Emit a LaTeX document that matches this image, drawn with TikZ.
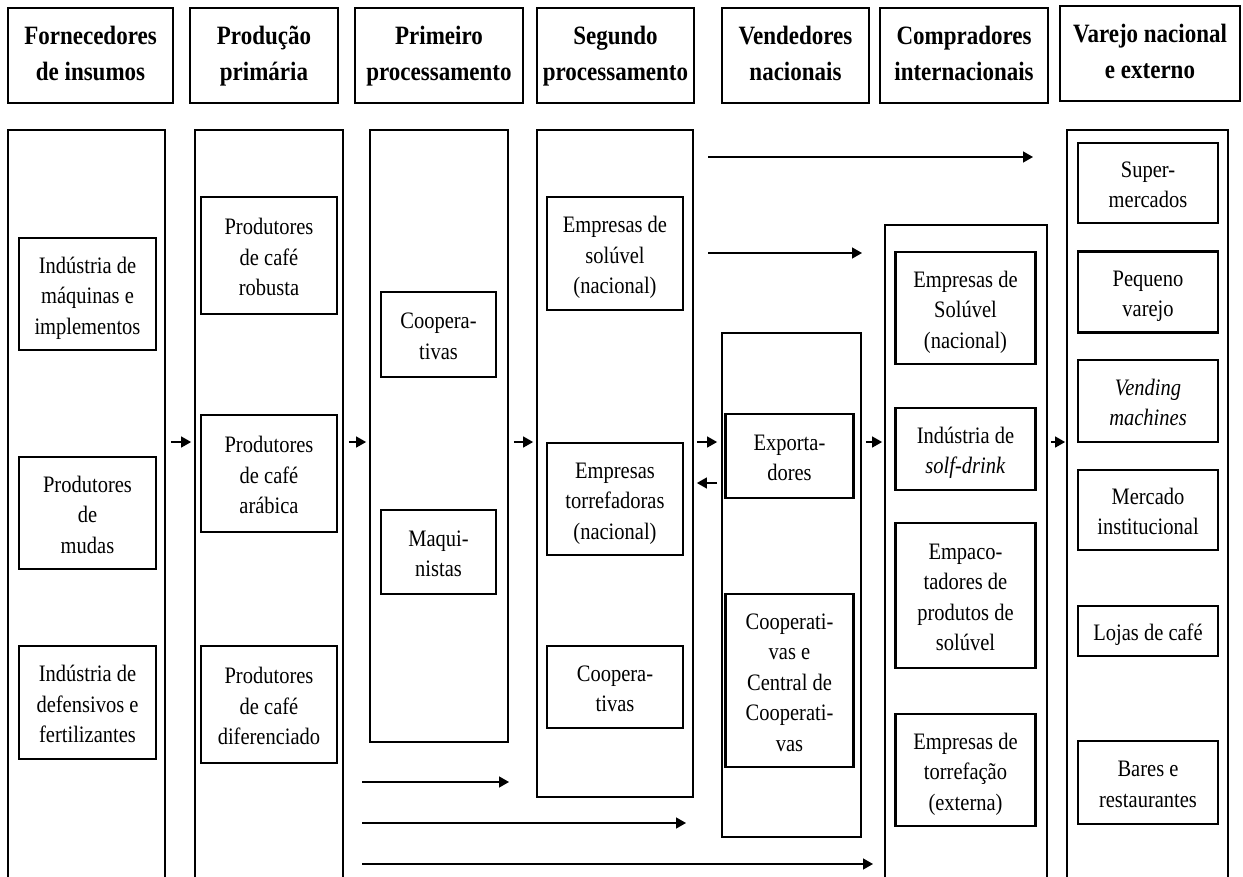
\documentclass[tikz,border=0pt]{standalone}
\usepackage{fontspec}
\setmainfont{Liberation Serif}
\usepackage{graphicx}
\usetikzlibrary{arrows.meta}
\newcommand\vtxt[1]{\scalebox{1}[1.15]{\begin{tabular}{@{}c@{}}#1\end{tabular}}}
\newcommand\itxt[1]{\raisebox{-3.5pt}[\height][\depth]{\vtxt{#1}}}
\begin{document}
\begin{tikzpicture}[x=1pt,y=-1pt,
  hbox/.style={draw,line width=2.2pt,inner sep=0pt,font=\bfseries\fontsize{23}{30.5}\selectfont},
  col/.style={draw,line width=1.8pt,inner sep=0pt},
  ibox/.style={draw,line width=2.8pt,inner sep=0pt,font=\fontsize{20.5}{26.5}\selectfont},
  arr/.style={line width=1.4pt,-{Triangle[length=10pt,width=11pt]}}]
\useasboundingbox (0,0) rectangle (1243,876);
\fill[white] (0,0) rectangle (1243,876);
% headers
\node[hbox,minimum width=165,minimum height=95] (H1) at (90.5,55.5) {\vtxt{Fornecedores\\de insumos}};
\node[hbox,minimum width=148,minimum height=95] (H2) at (264,55.5) {\vtxt{Produção\\primária}};
\node[hbox,minimum width=168,minimum height=95] (H3) at (439,55.5) {\vtxt{Primeiro\\processamento}};
\node[hbox,minimum width=157,minimum height=95] (H4) at (615.5,55.5) {\vtxt{Segundo\\processamento}};
\node[hbox,minimum width=147,minimum height=95] (H5) at (795.5,55.5) {\vtxt{Vendedores\\nacionais}};
\node[hbox,minimum width=168,minimum height=95] (H6) at (964,55.5) {\vtxt{Compradores\\internacionais}};
\node[hbox,minimum width=180,minimum height=95] (H7) at (1150,53.5) {\vtxt{Varejo nacional\\e externo}};
% columns
\node[col,minimum width=157,minimum height=770] (C1) at (86.5,515) {};
\node[col,minimum width=148,minimum height=770] (C2) at (269,515) {};
\node[col,minimum width=138,minimum height=612] (C3) at (439,436) {};
\node[col,minimum width=156,minimum height=667] (C4) at (615,463.5) {};
\node[col,minimum width=139,minimum height=504] (C5) at (791.5,585) {};
\node[col,minimum width=162,minimum height=676] (C6) at (966,563) {};
\node[col,minimum width=161,minimum height=770] (C7) at (1147.5,515) {};
% column 1
\node[ibox,minimum width=137,minimum height=112] (a1) at (87.5,294) {\itxt{Indústria de\\máquinas e\\implementos}};
\node[ibox,minimum width=137,minimum height=112] (a2) at (87.5,513) {\itxt{Produtores\\de\\mudas}};
\node[ibox,minimum width=137,minimum height=113] (a3) at (87.5,702.5) {\itxt{Indústria de\\defensivos e\\fertilizantes}};
% column 2
\node[ibox,minimum width=136,minimum height=117] (b1) at (269,255.5) {\itxt{Produtores\\de café\\robusta}};
\node[ibox,minimum width=136,minimum height=117] (b2) at (269,473.5) {\itxt{Produtores\\de café\\arábica}};
\node[ibox,minimum width=136,minimum height=117] (b3) at (269,704.5) {\itxt{Produtores\\de café\\diferenciado}};
% column 3
\node[ibox,minimum width=115,minimum height=85] (d1) at (438.5,334.5) {\itxt{Coopera-\\tivas}};
\node[ibox,minimum width=115,minimum height=84] (d2) at (438.5,552) {\itxt{Maqui-\\nistas}};
% column 4
\node[ibox,minimum width=136,minimum height=113] (e1) at (615,253.5) {\itxt{Empresas de\\solúvel\\(nacional)}};
\node[ibox,minimum width=136,minimum height=112] (e2) at (615,499) {\itxt{Empresas\\torrefadoras\\(nacional)}};
\node[ibox,minimum width=136,minimum height=82] (e3) at (615,687) {\itxt{Coopera-\\tivas}};
% column 5
\node[ibox,minimum width=128,minimum height=84] (f1) at (789.5,456) {\itxt{Exporta-\\dores}};
\node[ibox,minimum width=128,minimum height=173] (f2) at (789.5,680.5) {\itxt{Cooperati-\\vas e\\Central de\\Cooperati-\\vas}};
% column 6
\node[ibox,minimum width=140,minimum height=112] (g1) at (965.5,308) {\itxt{Empresas de\\Solúvel\\(nacional)}};
\node[ibox,minimum width=140,minimum height=82] (g2) at (965.5,449) {\itxt{Indústria de\\\textit{solf-drink}}};
\node[ibox,minimum width=140,minimum height=145] (g3) at (965.5,595.5) {\itxt{Empaco-\\tadores de\\produtos de\\solúvel}};
\node[ibox,minimum width=140,minimum height=112] (g4) at (965.5,770) {\itxt{Empresas de\\torrefação\\(externa)}};
% column 7
\node[ibox,minimum width=140,minimum height=80] (h1) at (1148,183) {\itxt{Super-\\mercados}};
\node[ibox,minimum width=140,minimum height=81] (h2) at (1148,292) {\itxt{Pequeno\\varejo}};
\node[ibox,minimum width=140,minimum height=82] (h3) at (1148,401) {\itxt{\textit{Vending}\\\textit{machines}}};
\node[ibox,minimum width=140,minimum height=80] (h4) at (1148,510) {\itxt{Mercado\\institucional}};
\node[ibox,minimum width=140,minimum height=50] (h5) at (1148,631) {\itxt{Lojas de café}};
\node[ibox,minimum width=140,minimum height=83] (h6) at (1148,782.5) {\itxt{Bares e\\restaurantes}};
% arrows between columns
\coordinate (r) at (0,442);
\coordinate (rb) at (0,483);
\draw[arr] ([xshift=5pt]C1.east |- r) -- ([xshift=-3pt]C2.west |- r);
\draw[arr] ([xshift=5pt]C2.east |- r) -- ([xshift=-3pt]C3.west |- r);
\draw[arr] ([xshift=5pt]C3.east |- r) -- ([xshift=-3pt]C4.west |- r);
\draw[arr] ([xshift=3pt]C4.east |- r) -- ([xshift=-4pt]C5.west |- r);
\draw[arr] ([xshift=-4pt]C5.west |- rb) -- ([xshift=3pt]C4.east |- rb);
\draw[arr] ([xshift=4pt]C5.east |- r) -- ([xshift=-2pt]C6.west |- r);
\draw[arr] ([xshift=3pt]C6.east |- r) -- ([xshift=-1pt]C7.west |- r);
% long arrows
\coordinate (t1s) at (708,157); \coordinate (t1e) at (1033,157);
\coordinate (t2s) at (708,253); \coordinate (t2e) at (862,253);
\coordinate (b1s) at (362,782); \coordinate (b1e) at (509,782);
\coordinate (b2s) at (362,823); \coordinate (b2e) at (686,823);
\coordinate (b3s) at (362,864); \coordinate (b3e) at (873,864);
\draw[arr] (t1s) -- (t1e);
\draw[arr] (t2s) -- (t2e);
\draw[arr] (b1s) -- (b1e);
\draw[arr] (b2s) -- (b2e);
\draw[arr] (b3s) -- (b3e);
\end{tikzpicture}
\end{document}
